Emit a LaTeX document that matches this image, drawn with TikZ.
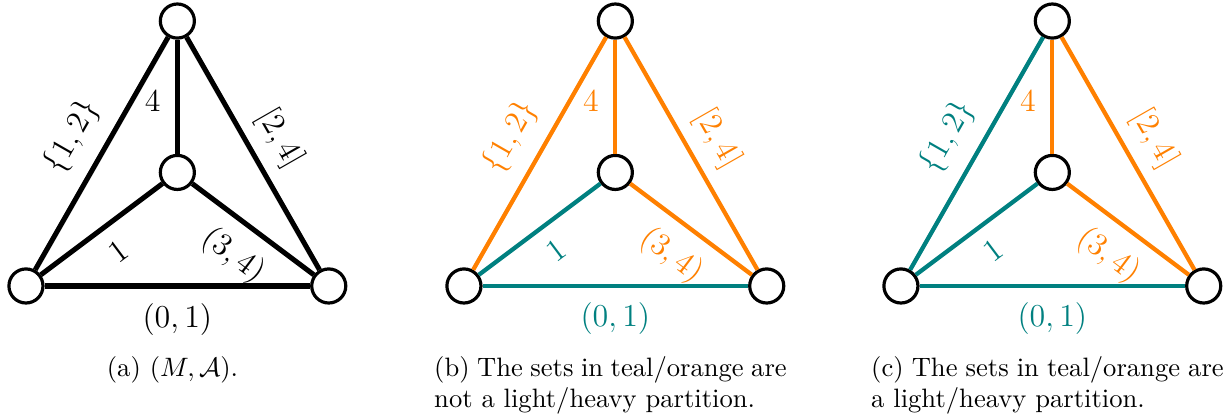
\documentclass[tikz,border=0pt]{standalone}
\usepackage{amsmath,amssymb}
\usepackage{tikz}
\usetikzlibrary{calc,positioning}

\begin{document}
\begin{tikzpicture}[
   vtx/.style={circle,draw=black,very thick,fill=white,minimum size=0.45cm,inner sep=0pt},
   lbl/.style={font=\fontsize{11.5}{13}\selectfont,inner sep=3pt},
   captxt/.style={anchor=north,inner sep=0pt,text width=132.5pt}]
  \useasboundingbox (0,0) rectangle (16.17,5.509);
  % the three graphs
  \foreach \g/\sx/\w/\cA/\cB/\cC/\cD/\cE/\cF in
     {a/0.343/1.9pt/black/black/black/black/black/black,
      b/6.129/1.6pt/orange/orange/orange/teal/orange/teal,
      c/11.902/1.6pt/teal/orange/orange/teal/orange/teal}{
    \begin{scope}[xshift=\sx cm,yshift=1.731cm]
      \node[vtx] (\g-l) at (0,0) {};
      \node[vtx] (\g-r) at (4,0) {};
      \node[vtx] (\g-t) at (2,3.5) {};
      \node[vtx] (\g-m) at (2,1.5) {};
      \draw[line width=\w,color=\cA] (\g-l) -- node[lbl,sloped,above=2.8pt] {$\{1,2\}$} (\g-t);
      \draw[line width=\w,color=\cB] (\g-t) -- node[lbl,left=2.4pt,pos=0.54] {$4$} (\g-m);
      \draw[line width=\w,color=\cC] (\g-t) -- node[lbl,sloped,above=1.5pt] {$[2,4]$} (\g-r);
      \draw[line width=\w,color=\cD] (\g-l) -- node[lbl,sloped,below=2.6pt] {$1$} (\g-m);
      \draw[line width=\w,color=\cE] (\g-m) -- node[lbl,sloped,below=2.6pt] {$(3,4)$} (\g-r);
      \draw[line width=\w,color=\cF] (\g-l) -- node[lbl,below=2.6pt] {$(0,1)$} (\g-r);
    \end{scope}
  }
  % captions
  \node[captxt,align=center] (capa) at ($(a-l)+(1.936,-0.919)$) {(a) $(M,\mathcal{A})$.};
  \node[captxt,align=justify] (capb) at ($(b-l)+(1.936,-0.919)$)
       {(b) The sets in teal/orange are not a light/heavy partition.};
  \node[captxt,align=justify] (capc) at ($(c-l)+(1.936,-0.919)$)
       {(c) The sets in teal/orange are a light/heavy partition.};
\end{tikzpicture}
\end{document}
